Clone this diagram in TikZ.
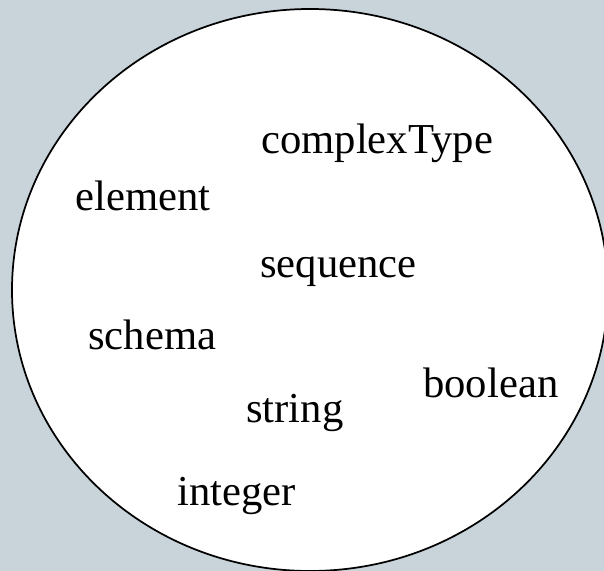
\documentclass[tikz,border=0pt]{standalone}
\usepackage{fontspec}
\setmainfont{Liberation Serif}
\definecolor{bggrey}{RGB}{200,211,218}
\tikzset{
    word/.style={anchor=base west, inner sep=0pt, font=\fontsize{32}{38}\selectfont}
}
\begin{document}
\begin{tikzpicture}[x=0.75pt,y=-0.75pt]
        \clip (0,0) rectangle (604,571);
        \fill[bggrey] (0,0) rectangle (604,571);

        \draw[fill=white, line width=1.3pt] (310,290) ellipse [x radius=298, y radius=281];

        \node[word] (complextype) at (261,153) {complexType};
        \node[word] (element) at (75,210) {element};
        \node[word] (sequence) at (260,277) {sequence};
        \node[word] (schema) at (88,349) {schema};
        \node[word] (boolean) at (423,397) {boolean};
        \node[word] (string) at (246,422) {string};
        \node[word] (integer) at (177,505) {integer};
    \end{tikzpicture}
\end{document}
